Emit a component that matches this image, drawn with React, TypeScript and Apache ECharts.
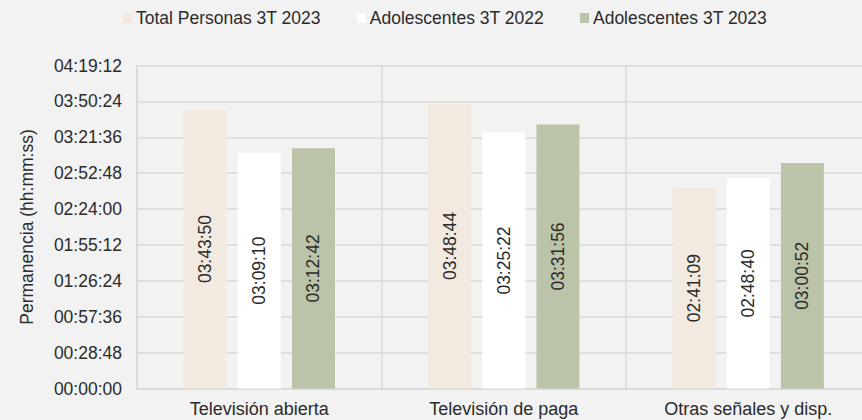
import React, { useEffect, useRef } from "react";
import * as echarts from "echarts";

const categories = ["Televisión abierta", "Televisión de paga", "Otras señales y disp."];
const seriesNames = ["Total Personas 3T 2023", "Adolescentes 3T 2022", "Adolescentes 3T 2023"];
const totalPersonas2023 = ["03:43:50", "03:48:44", "02:41:09"];
const adolescentes2022 = ["03:09:10", "03:25:22", "02:48:40"];
const adolescentes2023 = ["03:12:42", "03:31:56", "03:00:52"];
const colors = ["#F2EAE0", "#FFFFFF", "#BBC4A8"];

const toSec = (s: string) => {
  const [h, m, x] = s.split(":").map(Number);
  return h * 3600 + m * 60 + x;
};
const fmt = (v: number) => {
  const h = Math.floor(v / 3600);
  const m = Math.floor((v % 3600) / 60);
  const s = Math.round(v % 60);
  const p = (n: number) => String(n).padStart(2, "0");
  return `${p(h)}:${p(m)}:${p(s)}`;
};

const FONT = "'Liberation Sans', Arial, sans-serif";
const TXT = "#2b2b2b";
const GRIDC = "#D9D9D9";

export default function App() {
  const ref = useRef<HTMLDivElement>(null);
  useEffect(() => {
    const chart = echarts.init(ref.current!, undefined, { renderer: "svg" });
    const datas = [totalPersonas2023, adolescentes2022, adolescentes2023];
    chart.setOption({
      animation: false,
      backgroundColor: "#F2F2F2",
      textStyle: { fontFamily: FONT },
      legend: {
        top: 4,
        left: 118,
        itemWidth: 9,
        itemHeight: 10,
        itemGap: 36,
        icon: "rect",
        textStyle: { color: TXT, fontSize: 17.5, fontFamily: FONT, padding: [0, 0, 0, -1] },
        data: seriesNames,
      },
      grid: { left: 137, top: 65.5, width: 733.5, height: 323 },
      xAxis: {
        type: "category",
        data: categories,
        axisLine: { lineStyle: { color: GRIDC, width: 1.5 } },
        axisTick: { show: false },
        splitLine: { show: true, lineStyle: { color: GRIDC, width: 1.5 } },
        axisLabel: { color: TXT, fontSize: 18, fontFamily: FONT, margin: 11 },
      },
      yAxis: {
        type: "value",
        min: 0,
        max: 15552,
        interval: 1728,
        name: "Permanencia (hh:mm:ss)",
        nameLocation: "middle",
        nameGap: 101,
        nameTextStyle: { color: TXT, fontSize: 17.5, fontFamily: FONT },
        axisLine: { show: true, lineStyle: { color: GRIDC, width: 1.5 } },
        axisTick: { show: false },
        splitLine: { lineStyle: { color: GRIDC, width: 1.5 } },
        axisLabel: { color: TXT, fontSize: 17.5, fontFamily: FONT, margin: 15, formatter: (v: number) => fmt(v) },
      },
      series: seriesNames.map((name, i) => ({
        name,
        type: "bar",
        barWidth: 43,
        barGap: "26%",
        itemStyle: { color: colors[i] },
        label: {
          show: true,
          position: "inside",
          rotate: 90,
          color: TXT,
          fontSize: 17.5,
          fontFamily: FONT,
          formatter: (p: any) => fmt(p.value),
        },
        data: datas[i].map(toSec),
      })),
    });
    return () => chart.dispose();
  }, []);
  return (
    <div
      ref={ref}
      style={{ position: "fixed", left: 0, top: 0, width: 871, height: 420 }}
    />
  );
}
